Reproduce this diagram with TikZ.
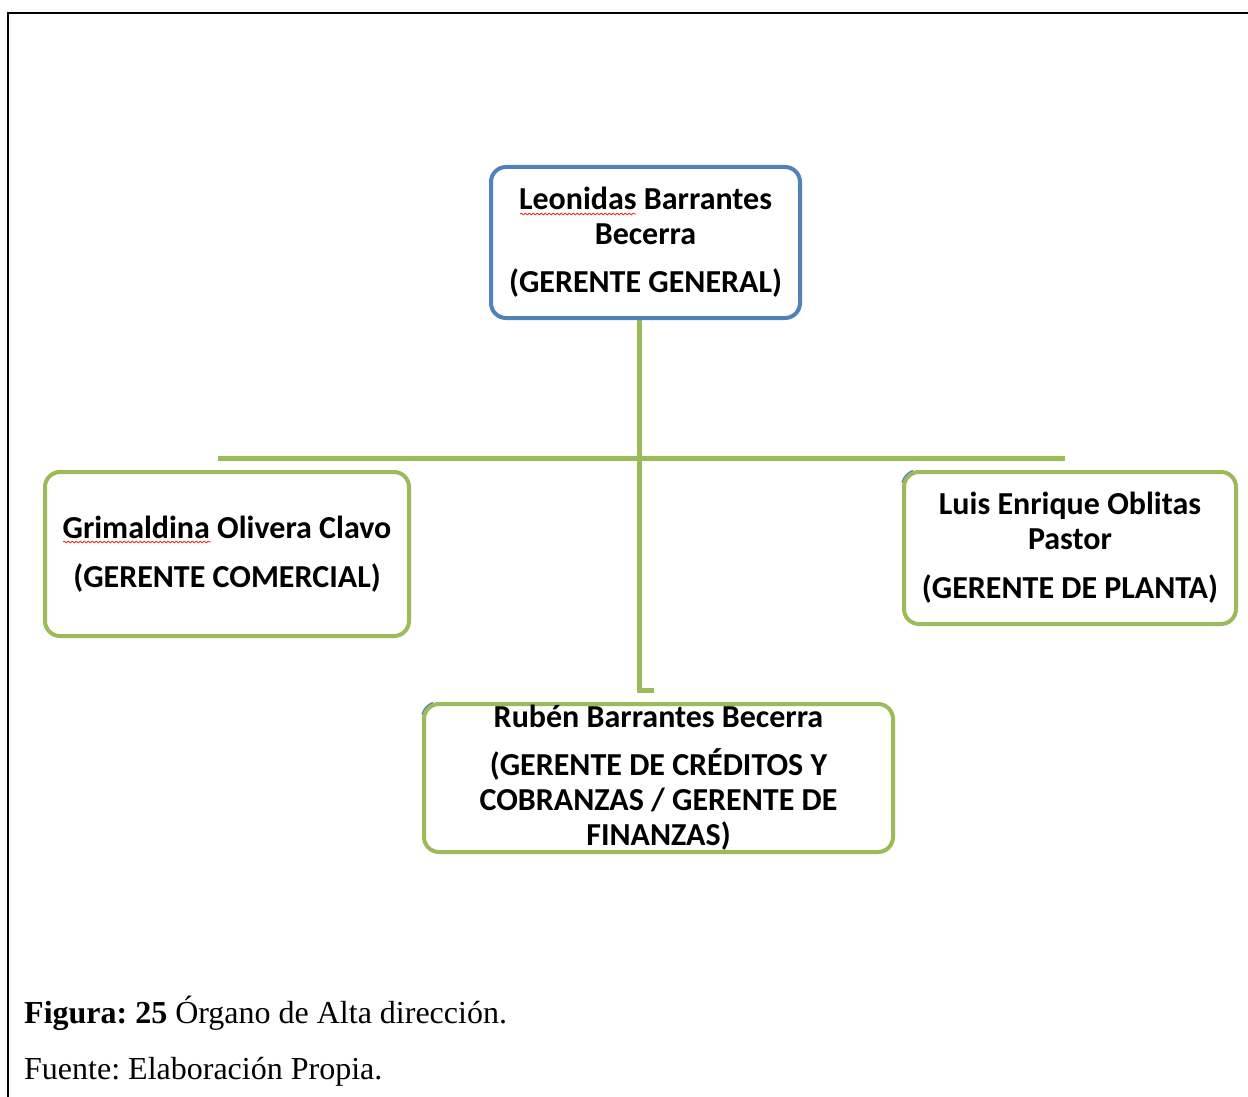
\documentclass[tikz,border=0pt]{standalone}
\usepackage{fontspec}
\setmainfont{Liberation Serif}
\newfontfamily\boxfont{Carlito}
\usetikzlibrary{calc,decorations.pathmorphing}
\definecolor{orgblue}{HTML}{4F81BD}
\definecolor{orggreen}{HTML}{9BBB59}
\definecolor{spellred}{HTML}{E03030}
\frenchspacing
\begin{document}
\begin{tikzpicture}[x=1pt,y=-1pt,
  orgbox/.style={draw=orggreen, line width=4pt, rounded corners=15pt, fill=white,
    inner sep=0pt, align=center,
    font=\boxfont\bfseries\fontsize{32}{35}\selectfont},
  topbox/.style={orgbox, draw=orgblue},
  link/.style={draw=orggreen, line width=5pt},
  corner/.style={draw=orgblue, line width=1.6pt},
  spell/.style={draw=spellred, line width=0.8pt,
    decorate, decoration={snake, amplitude=0.9pt, segment length=4pt}},
  caption/.style={anchor=base west, inner sep=0pt, font=\fontsize{32}{37}\selectfont}]
\useasboundingbox (0,0) rectangle (1248,1097);

% page frame
\draw[line width=2pt] (1248,13) -- (8,13) -- (8,1097);

% connectors
\coordinate (hl) at (218,458);
\coordinate (hr) at (1065,458);
\coordinate (stem) at (639,690);
\coordinate (tick) at (654,690);
\draw[link] (hl) -- (hr);
\draw[link] (639,318) -- (stem) -- (tick);

% blue corner remnants behind two of the green boxes
\draw[corner] (422.1,714.5) arc[start angle=165, end angle=110, radius=17.5pt];
\draw[corner] (902.1,482.5) arc[start angle=165, end angle=110, radius=17.5pt];

% boxes
\node[topbox, minimum width=309pt, minimum height=151pt] (gg) at (645.5,242.5)
  {Leonidas Barrantes\\Becerra\\[13pt](GERENTE GENERAL)};
\node[orgbox, minimum width=364pt, minimum height=164pt] (gc) at (227,554)
  {Grimaldina Olivera Clavo\\[14pt](GERENTE COMERCIAL)};
\node[orgbox, minimum width=332pt, minimum height=152pt] (gp) at (1070,548)
  {Luis Enrique Oblitas\\Pastor\\[14pt](GERENTE DE PLANTA)};
\node[orgbox, minimum width=469pt, minimum height=148pt] (gf) at (658.5,778)
  {Rubén Barrantes Becerra\\[13pt](GERENTE DE CRÉDITOS Y\\COBRANZAS / GERENTE DE\\FINANZAS)};

% spelling marks
\draw[spell] (520,214) -- (636,214);
\draw[spell] (63,542) -- (211,542);

% caption
\node[caption] (cap) at (24,1023) {\textbf{Figura: 25} Órgano de Alta dirección.};
\node[caption] (src) at (24,1079) {Fuente: Elaboración Propia.};
\end{tikzpicture}
\end{document}
